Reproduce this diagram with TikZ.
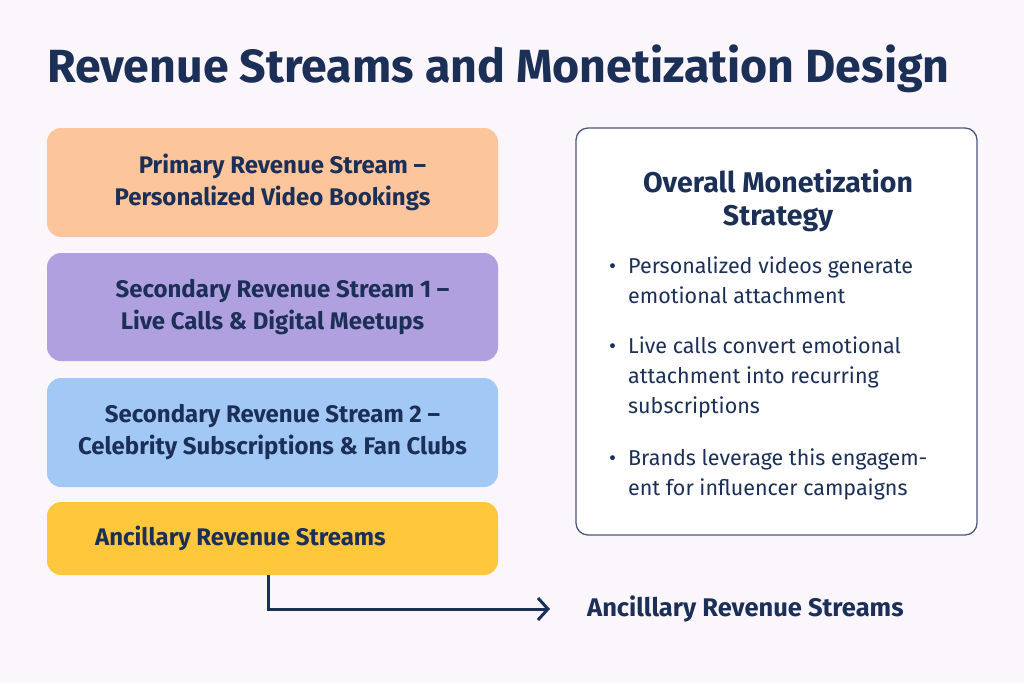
\documentclass[tikz,border=0pt]{standalone}
\usepackage{fontspec}
\setmainfont{Fira Sans}
\usetikzlibrary{arrows.meta}
\definecolor{navy}{HTML}{1B2F57}
\definecolor{bgpage}{HTML}{FBF6FC}
\definecolor{peach}{HTML}{FDC59B}
\definecolor{lilac}{HTML}{B1A0E0}
\definecolor{sky}{HTML}{A2C8F5}
\definecolor{gold}{HTML}{FFC83C}
\definecolor{frame}{HTML}{4A5878}
\tikzset{
  stream/.style={rounded corners=14pt, minimum width=451pt, align=center, text=navy,
    font=\fontsize{24}{32}\selectfont\bfseries},
  bullet/.style={anchor=north west, align=left, text=navy, inner sep=0pt,
    font=\fontsize{21.5}{30}\selectfont},
  flow/.style={line width=3pt, draw=navy, -{Straight Barb[length=10pt, width=22pt, line width=3pt]}}
}
\begin{document}
\begin{tikzpicture}[x=1pt, y=-1pt]
\useasboundingbox (0,0) rectangle (1024,683);
\fill[bgpage] (0,0) rectangle (1024,683);
% title
\node (title) [anchor=base west, text=navy, inner sep=0pt, font=\fontsize{46.5}{52}\selectfont\bfseries] at (47,82) {Revenue Streams and Monetization Design};
% revenue streams on the left
\node (prim) [stream, fill=peach, minimum height=109pt] at (272.5,182.5) {\hspace*{20pt}Primary Revenue Stream --\\Personalized Video Bookings};
\node (sec1) [stream, fill=lilac, minimum height=108pt] at (272.5,307) {\hspace*{20pt}Secondary Revenue Stream 1 --\\Live Calls \& Digital Meetups};
\node (sec2) [stream, fill=sky, minimum height=109pt] at (272.5,432.5) {Secondary Revenue Stream 2 --\\Celebrity Subscriptions \& Fan Clubs};
\node (anc) [stream, fill=gold, minimum height=73pt] at (272.5,538.5) {Ancillary Revenue Streams\hspace{64pt}};
% strategy box
\node (strat) [draw=frame, line width=1.3pt, fill=white, rounded corners=12pt, minimum width=401pt, minimum height=407pt] at (776.5,331.5) {};
\node (strathead) [align=center, text=navy, font=\fontsize{28.5}{33}\selectfont\bfseries] at (778,201) {Overall Monetization\\Strategy};
\node (b1) [bullet] at (609,252) {\textbullet\hspace{12pt}\begin{tabular}[t]{@{}l@{}}Personalized videos generate\\emotional attachment\end{tabular}};
\node (b2) [bullet] at (609,332) {\textbullet\hspace{12pt}\begin{tabular}[t]{@{}l@{}}Live calls convert emotional\\attachment into recurring\\subscriptions\end{tabular}};
\node (b3) [bullet] at (609,444) {\textbullet\hspace{12pt}\begin{tabular}[t]{@{}l@{}}Brands leverage this engagem-\\ent for influencer campaigns\end{tabular}};
% ancillary arrow
\coordinate (turn) at (268,609);
\node (anclab) [anchor=west, text=navy, inner sep=0pt, font=\fontsize{25.5}{30}\selectfont\bfseries] at (587,609) {Ancilllary Revenue Streams};
\draw[flow] (anc.south -| turn) |- ([xshift=-37pt]anclab.west);
\end{tikzpicture}
\end{document}
